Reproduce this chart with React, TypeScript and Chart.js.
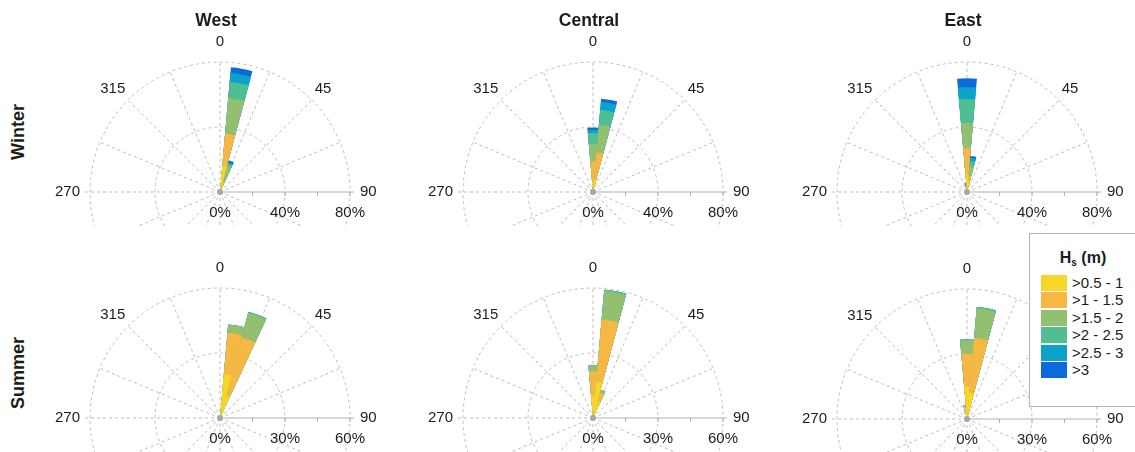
import React, { useEffect, useRef } from 'react';
import { Chart, registerables } from 'chart.js';

Chart.register(...registerables);

const FONT = '"Liberation Sans", Arial, Helvetica, sans-serif';

// 10-degree direction bins, clockwise from north
const DIRECTIONS = [0, 10, 20, 30, 40, 50, 60, 70, 80, 90, 100, 110, 120, 130, 140, 150, 160, 170,
  180, 190, 200, 210, 220, 230, 240, 250, 260, 270, 280, 290, 300, 310, 320, 330, 340, 350];

const HS_CLASSES = ['>0.5 - 1', '>1 - 1.5', '>1.5 - 2', '>2 - 2.5', '>2.5 - 3', '>3'];
const HS_COLORS = ['#F6D626', '#F7B843', '#93BF71', '#4FBE93', '#0BA3C9', '#0C6ADB'];

const REGIONS = ['West', 'Central', 'East'];
const SEASONS = ['Winter', 'Summer'];

// radial rings, % of occurrence
const WINTER_RINGS = [0, 40, 80];
const SUMMER_RINGS = [0, 30, 60];

const ANGLE_LABELS = [0, 45, 90, 135, 180, 225, 270, 315];

// Occurrence (%) per direction bin:
// [direction, >0.5-1, >1-1.5, >1.5-2, >2-2.5, >2.5-3, >3]
const WEST_WINTER = [
  [10, 16, 20, 22, 10, 5.5, 3.5],
  [20, 4, 2.5, 10, 1.5, 1, 1.2],
];
const CENTRAL_WINTER = [
  [0, 6, 13, 10.7, 6.6, 2, 1.4],
  [10, 7.7, 16.7, 17, 9.4, 4.8, 2],
];
const EAST_WINTER = [
  [350, 1.5, 1, 1, 1, 0.8, 0.5],
  [0, 11, 16, 15.4, 14.8, 7.4, 5.4],
  [10, 6, 3.8, 6.2, 3, 2.2, 1.1],
];
const WEST_SUMMER = [
  [10, 20.3, 19.2, 3.8, 0, 0, 0],
  [20, 11, 27.4, 11.8, 0.5, 0, 0],
];
const CENTRAL_SUMMER = [
  [0, 10, 11.5, 2.8, 0, 0, 0],
  [10, 16.8, 28.8, 13.2, 0.6, 0, 0],
  [20, 8, 4, 1.5, 0, 0, 0],
];
const EAST_SUMMER = [
  [350, 3, 2, 1.6, 0, 0, 0],
  [0, 15, 15.1, 6.3, 0.3, 0, 0],
  [10, 12, 25.6, 13.7, 0.6, 0, 0],
];

const GRID_COLOR = '#bdbdbd';
const AXIS_COLOR = '#b0b0b0';
const TEXT_COLOR = '#1c1c1c';

const CANVAS_W = 380;
const CANVAS_H = 226;
const LOCAL_CX = 190;
const RADIUS = 130;

type Row = number[];

interface PanelProps {
  rows: Row[];
  rings: number[];
  cx: number;
  cy: number;
  top: number;
}

function RosePanel({ rows, rings, cx, cy, top }: PanelProps) {
  const ref = useRef<HTMLCanvasElement | null>(null);

  useEffect(() => {
    const canvas = ref.current;
    if (!canvas) return;
    const rMax = rings[rings.length - 1];
    const localCy = cy - top;

    // stacked wind rose: each class is drawn as the running total, smallest on top
    const stacks = HS_CLASSES.map((_, k) => {
      const vals = DIRECTIONS.map(() => 0);
      rows.forEach((row) => {
        const idx = DIRECTIONS.indexOf(row[0]);
        let sum = 0;
        for (let j = 0; j <= k; j++) sum += row[j + 1];
        vals[idx] = sum;
      });
      return vals;
    });

    const rosePlugin = {
      id: 'roseGrid',
      beforeDatasetsDraw(chart: any) {
        const s = chart.scales.r;
        const ctx = chart.ctx as CanvasRenderingContext2D;
        const x0 = s.xCenter;
        const y0 = s.yCenter;
        const R = s.getDistanceFromCenterForValue(rMax);
        ctx.save();
        ctx.strokeStyle = GRID_COLOR;
        ctx.lineWidth = 1;
        ctx.setLineDash([3, 3]);
        rings.slice(1).forEach((v) => {
          ctx.beginPath();
          ctx.arc(x0, y0, s.getDistanceFromCenterForValue(v), 0, Math.PI * 2);
          ctx.stroke();
        });
        for (let i = 0; i < 16; i++) {
          const a = i * 22.5;
          if (a === 90) continue;
          const len = a === 270 ? R + 5 : R;
          const rad = (a * Math.PI) / 180;
          ctx.beginPath();
          ctx.moveTo(x0, y0);
          ctx.lineTo(x0 + Math.sin(rad) * len, y0 - Math.cos(rad) * len);
          ctx.stroke();
        }
        ctx.restore();
      },
      afterDatasetsDraw(chart: any) {
        const s = chart.scales.r;
        const ctx = chart.ctx as CanvasRenderingContext2D;
        const x0 = s.xCenter;
        const y0 = s.yCenter;
        const R = s.getDistanceFromCenterForValue(rMax);
        ctx.save();
        // radial axis along 90 degrees
        ctx.setLineDash([]);
        ctx.strokeStyle = AXIS_COLOR;
        ctx.lineWidth = 1;
        ctx.beginPath();
        ctx.moveTo(x0, y0);
        ctx.lineTo(x0 + R + 4, y0);
        ctx.stroke();
        const minor = rings[1] / 2;
        for (let v = minor; v <= rMax + 1e-6; v += minor) {
          const x = x0 + s.getDistanceFromCenterForValue(v);
          ctx.beginPath();
          ctx.moveTo(x, y0);
          ctx.lineTo(x, y0 + 4);
          ctx.stroke();
        }
        // hub
        ctx.fillStyle = '#a8a8a8';
        ctx.beginPath();
        ctx.arc(x0, y0, 3, 0, Math.PI * 2);
        ctx.fill();

        ctx.fillStyle = TEXT_COLOR;
        ctx.font = `15px ${FONT}`;
        ctx.textBaseline = 'middle';
        ANGLE_LABELS.forEach((a) => {
          const text = String(a);
          const rad = (a * Math.PI) / 180;
          const sx = Math.sin(rad);
          const sy = -Math.cos(rad);
          if (a === 90) {
            ctx.textAlign = 'left';
            ctx.fillText(text, x0 + R + 10, y0);
          } else if (a === 270) {
            ctx.textAlign = 'right';
            ctx.fillText(text, x0 - R - 10, y0);
          } else if (a === 0 || a === 180) {
            ctx.textAlign = 'center';
            ctx.fillText(text, x0, y0 + sy * (R + 20));
          } else {
            const w = ctx.measureText(text).width;
            ctx.textAlign = 'center';
            ctx.fillText(text, x0 + sx * (R + 16) + Math.sign(sx) * (w - 17) / 2, y0 + sy * (R + 16));
          }
        });
        ctx.textAlign = 'center';
        rings.forEach((v) => {
          ctx.fillText(`${v}%`, x0 + s.getDistanceFromCenterForValue(v), y0 + 21);
        });
        ctx.restore();
      },
    };

    const chart = new Chart(canvas, {
      type: 'polarArea',
      data: {
        labels: DIRECTIONS.map(String),
        datasets: HS_CLASSES.map((label, k) => ({
          label,
          data: stacks[k],
          backgroundColor: HS_COLORS[k],
          borderWidth: 0,
        })),
      },
      options: {
        animation: false,
        responsive: false,
        maintainAspectRatio: false,
        events: [],
        layout: { padding: 0 },
        plugins: { legend: { display: false }, tooltip: { enabled: false } },
        scales: {
          r: {
            min: 0,
            max: rMax,
            startAngle: -5,
            ticks: { display: false },
            grid: { display: false },
            angleLines: { display: false },
            pointLabels: { display: false },
            afterFit: (scale: any) => {
              scale.xCenter = LOCAL_CX;
              scale.yCenter = localCy;
              scale.drawingArea = RADIUS;
            },
          },
        },
      } as any,
      plugins: [rosePlugin],
    });
    return () => chart.destroy();
  }, [rows, rings, cx, cy, top]);

  return (
    <canvas
      ref={ref}
      width={CANVAS_W}
      height={CANVAS_H}
      style={{ position: 'absolute', left: cx - LOCAL_CX, top, width: CANVAS_W, height: CANVAS_H }}
    />
  );
}

const COL_CENTERS = [220, 593, 967];
const TITLE_X = [216, 589, 963];

const PANELS = [
  { rows: WEST_WINTER, rings: WINTER_RINGS, cx: 220, cy: 192, top: 0 },
  { rows: CENTRAL_WINTER, rings: WINTER_RINGS, cx: 593, cy: 192, top: 0 },
  { rows: EAST_WINTER, rings: WINTER_RINGS, cx: 967, cy: 192, top: 0 },
  { rows: WEST_SUMMER, rings: SUMMER_RINGS, cx: 220, cy: 418, top: 226 },
  { rows: CENTRAL_SUMMER, rings: SUMMER_RINGS, cx: 593, cy: 418, top: 226 },
  { rows: EAST_SUMMER, rings: SUMMER_RINGS, cx: 967, cy: 419, top: 227 },
];

const ROW_LABEL_Y = [132, 373];

export default function App() {
  return (
    <div
      style={{
        position: 'absolute',
        left: 0,
        top: 0,
        width: 1135,
        height: 452,
        overflow: 'hidden',
        background: '#fff',
        fontFamily: FONT,
        color: TEXT_COLOR,
      }}
    >
      {PANELS.map((p, i) => (
        <RosePanel key={i} {...p} />
      ))}
      {REGIONS.map((name, i) => (
        <div
          key={name}
          style={{
            position: 'absolute',
            left: TITLE_X[i],
            top: 21,
            transform: 'translate(-50%, -50%)',
            fontWeight: 'bold',
            fontSize: 17.5,
            whiteSpace: 'nowrap',
            lineHeight: 1,
          }}
        >
          {name}
        </div>
      ))}
      {SEASONS.map((name, i) => (
        <div
          key={name}
          style={{
            position: 'absolute',
            left: 18,
            top: ROW_LABEL_Y[i],
            transform: 'translate(-50%, -50%) rotate(-90deg)',
            fontWeight: 'bold',
            fontSize: 18,
            whiteSpace: 'nowrap',
            lineHeight: 1,
          }}
        >
          {name}
        </div>
      ))}
      <div
        style={{
          position: 'absolute',
          left: 1029,
          top: 233,
          width: 120,
          height: 174,
          border: '1px solid #b4b4b4',
          background: '#fff',
          boxSizing: 'border-box',
          zIndex: 2,
        }}
      >
        <div
          style={{
            position: 'absolute',
            left: 0,
            width: 106,
            top: 15,
            textAlign: 'center',
            fontWeight: 'bold',
            fontSize: 16,
            lineHeight: '18px',
            whiteSpace: 'nowrap',
          }}
        >
          H<sub style={{ fontSize: 10, verticalAlign: -3 }}>s</sub> (m)
        </div>
        {HS_CLASSES.map((label, k) => (
          <div key={label}>
            <div
              style={{
                position: 'absolute',
                left: 11,
                top: 41 + k * 17.4,
                width: 26,
                height: 16,
                background: HS_COLORS[k],
              }}
            />
            <div
              style={{
                position: 'absolute',
                left: 42,
                top: 41 + k * 17.4,
                height: 16,
                lineHeight: '16px',
                fontSize: 15,
                whiteSpace: 'nowrap',
              }}
            >
              {label}
            </div>
          </div>
        ))}
      </div>
    </div>
  );
}
